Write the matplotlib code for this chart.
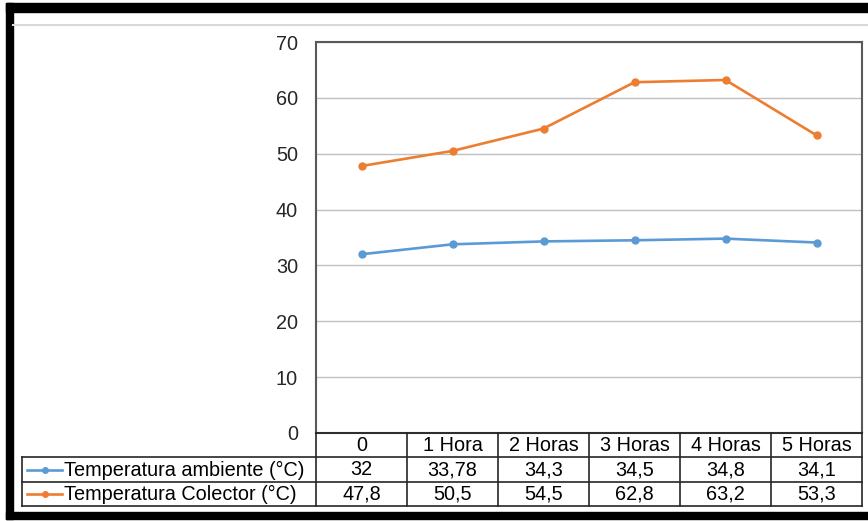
import matplotlib.pyplot as plt
from matplotlib.patches import Rectangle
from matplotlib.lines import Line2D

categorias = ["0", "1 Hora", "2 Horas", "3 Horas", "4 Horas", "5 Horas"]
t_ambiente = [32, 33.78, 34.3, 34.5, 34.8, 34.1]
t_colector = [47.8, 50.5, 54.5, 62.8, 63.2, 53.3]
series = [("Temperatura ambiente (°C)", t_ambiente, "#5B9BD5"),
          ("Temperatura Colector (°C)", t_colector, "#ED7D31")]
y_ticks = [0, 10, 20, 30, 40, 50, 60, 70]

W, H = 868, 521
FS = 14.3
plt.rcParams['font.family'] = ['Liberation Sans', 'DejaVu Sans']
fig = plt.figure(figsize=(W / 100, H / 100), dpi=100)


def fbox(x0, y0, x1, y1):
    # pixel box (top-left origin) -> figure fraction
    return [x0 / W, 1 - y1 / H, (x1 - x0) / W, (y1 - y0) / H]


def frame_rect(x0, y0, x1, y1):
    fig.patches.append(Rectangle(fbox(x0, y0, x1, y1)[:2], (x1 - x0) / W, (y1 - y0) / H,
                                 transform=fig.transFigure, color="black"))


# outer frame
frame_rect(6, 3, W, 12)
frame_rect(6, 3, 13, 519)
frame_rect(6, 512, W, 519)
fig.lines.append(Line2D([13 / W, 1], [1 - 25 / H] * 2, transform=fig.transFigure, color="#D9D9D9", lw=1.5))

px0, px1, py0, py1 = 316, 862, 42, 433
ax = fig.add_axes(fbox(px0, py0, px1, py1))
x = list(range(len(categorias)))
for nombre, vals, col in series:
    ax.plot(x, vals, color=col, lw=1.9, marker="o", ms=5, solid_capstyle="round")
ax.set_xlim(-0.5, len(categorias) - 0.5)
ax.set_ylim(0, 70)
ax.set_yticks(y_ticks)
ax.set_yticklabels([str(t) for t in y_ticks], fontsize=FS, color="#262626")
ax.tick_params(axis="y", length=0, pad=13)
ax.set_xticks([])
ax.grid(axis="y", color="#BFBFBF", lw=1)
ax.set_axisbelow(True)
for s in ax.spines.values():
    s.set_color("#595959")
    s.set_linewidth(1.5)

# data table under the chart
unit = (px1 - px0) / len(categorias)
tx0 = 22
tab = fig.add_axes(fbox(tx0, py1, px1, 506))
xl = -0.5 - (px0 - tx0) / unit
tab.set_xlim(xl, len(categorias) - 0.5)
tab.set_ylim(3, 0)
tab.axis("off")
lc, lw = "#262626", 1.2
tab.plot([-0.5, len(categorias) - 0.5], [0, 0], color=lc, lw=lw, clip_on=False)
for r in (1, 2, 3):
    tab.plot([xl, len(categorias) - 0.5], [r, r], color=lc, lw=lw, clip_on=False)
tab.plot([xl, xl], [1, 3], color=lc, lw=lw, clip_on=False)
for i in range(len(categorias) + 1):
    tab.plot([i - 0.5, i - 0.5], [0, 3], color=lc, lw=lw, clip_on=False)
for i, c in enumerate(categorias):
    tab.text(i, 0.52, c, ha="center", va="center", fontsize=FS, color="black")
for r, (nombre, vals, col) in enumerate(series, start=1):
    for i, v in enumerate(vals):
        tab.text(i, r + 0.52, f"{v:g}".replace(".", ","), ha="center", va="center",
                 fontsize=FS, color="black")
    k0 = xl + 5 / unit
    k1 = xl + 40 / unit
    tab.plot([k0, k1], [r + 0.5, r + 0.5], color=col, lw=1.9, clip_on=False)
    tab.plot([(k0 + k1) / 2], [r + 0.5], color=col, marker="o", ms=4, clip_on=False)
    tab.text(k1 + 2 / unit, r + 0.52, nombre, ha="left", va="center", fontsize=FS, color="black")

fig.savefig("out.png", dpi=100)
